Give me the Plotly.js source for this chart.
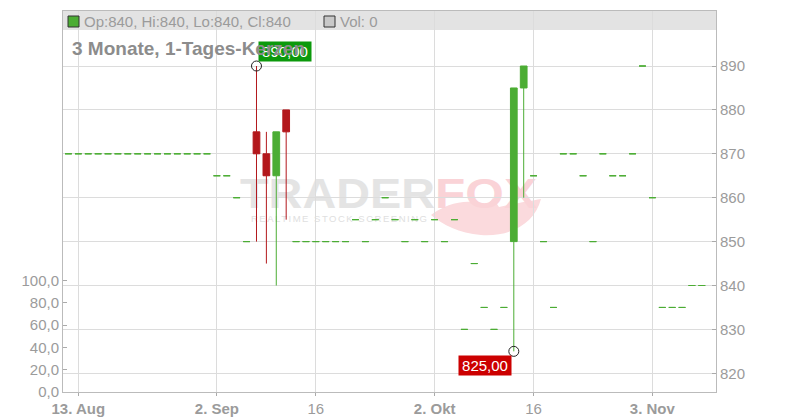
<!DOCTYPE html>
<html>
<head>
<meta charset="utf-8">
<script src="https://cdn.plot.ly/plotly-3.0.1.min.js"></script>
<style>
  html, body { margin: 0; padding: 0; background: #fff; }
  #chart { width: 800px; height: 420px; }
</style>
</head>
<body>
<div id="chart"></div>
<script>
// trading days, 3 months back
var days = [
  '2025-08-12','2025-08-13','2025-08-14','2025-08-15','2025-08-18','2025-08-19','2025-08-20',
  '2025-08-21','2025-08-22','2025-08-25','2025-08-26','2025-08-27','2025-08-28','2025-08-29',
  '2025-09-01','2025-09-02','2025-09-03','2025-09-04','2025-09-05','2025-09-08','2025-09-09',
  '2025-09-10','2025-09-11','2025-09-12','2025-09-15','2025-09-16','2025-09-17','2025-09-18',
  '2025-09-19','2025-09-22','2025-09-23','2025-09-24','2025-09-25','2025-09-26','2025-09-29',
  '2025-09-30','2025-10-01','2025-10-02','2025-10-03','2025-10-06','2025-10-07','2025-10-08',
  '2025-10-09','2025-10-10','2025-10-13','2025-10-14','2025-10-15','2025-10-16','2025-10-17',
  '2025-10-20','2025-10-21','2025-10-22','2025-10-23','2025-10-24','2025-10-27','2025-10-28',
  '2025-10-29','2025-10-30','2025-10-31','2025-11-03','2025-11-04','2025-11-05','2025-11-06',
  '2025-11-07','2025-11-10'
];

var open = [
  870,870,870,870,870,870,870,870,870,870,870,870,870,870,870,
  865,865,860,850,875,870,865,880,
  850,850,850,850,850,850,
  855,850,855,860,855,850,855,850,855,850,855,
  830,845,835,830,835,850,885,
  865,850,835,870,870,865,850,870,865,865,870,890,860,835,835,835,840,840
];
var high = [
  870,870,870,870,870,870,870,870,870,870,870,870,870,870,870,
  865,865,860,850,890,875,875,880,
  850,850,850,850,850,850,
  855,850,855,860,855,850,855,850,855,850,855,
  830,845,835,830,835,885,890,
  865,850,835,870,870,865,850,870,865,865,870,890,860,835,835,835,840,840
];
var low = [
  870,870,870,870,870,870,870,870,870,870,870,870,870,870,870,
  865,865,860,850,850,845,840,855,
  850,850,850,850,850,850,
  855,850,855,860,855,850,855,850,855,850,855,
  830,845,835,830,835,825,860,
  865,850,835,870,870,865,850,870,865,865,870,890,860,835,835,835,840,840
];
var close = [
  870,870,870,870,870,870,870,870,870,870,870,870,870,870,870,
  865,865,860,850,870,865,875,875,
  850,850,850,850,850,850,
  855,850,855,860,855,850,855,850,855,850,855,
  830,845,835,830,835,885,890,
  865,850,835,870,870,865,850,870,865,865,870,890,860,835,835,835,840,840
];
var volume = days.map(function () { return 0; });

var tickDays = ['2025-08-13','2025-09-02','2025-09-16','2025-10-02','2025-10-16','2025-11-03'];
var tickNames = ['<b>13. Aug</b>','<b>2. Sep</b>','16','<b>2. Okt</b>','16','<b>3. Nov</b>'];
var priceTicks = [820, 830, 840, 850, 860, 870, 880, 890];
var volTicks = [0, 20, 40, 60, 80, 100];

var green = '#4cad34';
var red = '#b3181c';

// split flat days (drawn as dashes) from real candles
function pick(arr, flat) {
  var out = [];
  for (var i = 0; i < days.length; i++) {
    var isFlat = open[i] === high[i] && high[i] === low[i] && low[i] === close[i];
    if (isFlat === flat) out.push(arr[i]);
  }
  return out;
}

var flatTrace = {
  type: 'candlestick',
  x: pick(days, true), open: pick(open, true), high: pick(high, true),
  low: pick(low, true), close: pick(close, true),
  increasing: { line: { color: green, width: 1 }, fillcolor: green },
  decreasing: { line: { color: green, width: 1 }, fillcolor: green },
  hoverinfo: 'skip', showlegend: false
};

var candleTrace = {
  type: 'candlestick',
  x: pick(days, false), open: pick(open, false), high: pick(high, false),
  low: pick(low, false), close: pick(close, false),
  increasing: { line: { color: green, width: 1 }, fillcolor: green },
  decreasing: { line: { color: red, width: 1 }, fillcolor: red },
  hoverinfo: 'skip', showlegend: false
};

var volTrace = {
  type: 'bar', x: days, y: volume, yaxis: 'y2',
  marker: { color: '#c8c8c8' }, hoverinfo: 'skip', showlegend: false
};

// max high / min low markers
var hiMax = Math.max.apply(null, high), loMin = Math.min.apply(null, low);
var hiDay = days[high.indexOf(hiMax)], loDay = days[low.indexOf(loMin)];

var extremes = {
  type: 'scatter', mode: 'markers',
  x: [hiDay, loDay], y: [hiMax, loMin],
  marker: { symbol: 'circle-open', size: 10, color: '#222', line: { width: 1 } },
  hoverinfo: 'skip', showlegend: false
};

function fmt(v) { return v.toFixed(2).replace('.', ','); }

var last = days.length - 1;
var legendText = 'Op:' + open[last] + ', Hi:' + high[last] + ', Lo:' + low[last] + ', Cl:' + close[last];

var wm = '<svg xmlns="http://www.w3.org/2000/svg" width="310" height="75" viewBox="0 0 310 75">' +
  '<path d="M196,50 C212,38 232,33 252,40 L258,33 L264,42 C282,38 296,36 306,34 C300,58 276,72 246,70 C224,68 208,60 196,50 Z" fill="#fbdadd"/>' +
  '<text x="5" y="43" font-family="Liberation Sans, Arial" font-weight="bold" font-size="43" fill="#e4e4e4" textLength="195" lengthAdjust="spacingAndGlyphs">TRADER</text>' +
  '<text x="200" y="43" font-family="Liberation Sans, Arial" font-weight="bold" font-size="43" fill="#fad3d7" textLength="102" lengthAdjust="spacingAndGlyphs">FOX</text>' +
  '<text x="16" y="57" font-family="Liberation Sans, Arial" font-size="9.5" fill="#e0e0e0" textLength="176" lengthAdjust="spacing">REALTIME STOCK SCREENING</text>' +
  '</svg>';

var layout = {
  width: 800, height: 420,
  margin: { l: 63, r: 84, t: 11, b: 28 },
  paper_bgcolor: '#fff', plot_bgcolor: '#fff',
  separators: ',.',
  font: { family: 'Liberation Sans, Arial, sans-serif', size: 15, color: '#9b9b9b' },
  showlegend: false,
  hovermode: false,
  boxgap: 0.3,
  boxgroupgap: 0.03,
  xaxis: {
    type: 'category', categoryorder: 'array', categoryarray: days,
    range: [-0.55, 65.43],
    tickmode: 'array', tickvals: tickDays, ticktext: tickNames,
    ticks: 'outside', ticklen: 3, tickcolor: '#aaa',
    showgrid: true, gridcolor: '#dcdcdc',
    showline: true, linecolor: '#bbb', mirror: true,
    tickfont: { size: 15, color: '#9b9b9b' },
    rangeslider: { visible: false }, fixedrange: true
  },
  yaxis: {
    side: 'right', range: [815.74, 902.53],
    tickmode: 'array', tickvals: priceTicks,
    ticks: 'inside', ticklen: 4, tickcolor: '#aaa',
    showgrid: true, gridcolor: '#dcdcdc', zeroline: false,
    showline: true, linecolor: '#bbb',
    tickfont: { size: 15, color: '#9b9b9b' }, fixedrange: true
  },
  yaxis2: {
    overlaying: 'y', side: 'left', range: [0, 341.7],
    tickmode: 'array', tickvals: volTicks, tickformat: '.1f',
    ticks: 'inside', ticklen: 4, tickcolor: '#aaa',
    showgrid: false, zeroline: false,
    showline: true, linecolor: '#bbb',
    tickfont: { size: 15, color: '#9b9b9b' }, fixedrange: true
  },
  shapes: [
    { type: 'rect', xref: 'paper', yref: 'paper', x0: 0, x1: 1, y0: 0.9501, y1: 1,
      fillcolor: '#e3e3e3', line: { width: 0 }, layer: 'below' },
    { type: 'rect', xref: 'paper', yref: 'paper', xsizemode: 'pixel', ysizemode: 'pixel',
      xanchor: 0, yanchor: 1, x0: 5, x1: 16, y0: -5, y1: -16,
      fillcolor: green, line: { color: '#333', width: 1 } },
    { type: 'rect', xref: 'paper', yref: 'paper', xsizemode: 'pixel', ysizemode: 'pixel',
      xanchor: 0, yanchor: 1, x0: 261, x1: 272, y0: -5, y1: -16,
      fillcolor: '#c8c8c8', line: { color: '#333', width: 1 } }
  ],
  images: [
    { source: 'data:image/svg+xml;charset=utf-8,' + encodeURIComponent(wm),
      xref: 'paper', yref: 'paper', x: 0.2634, y: 0.5958, sizex: 0.4747, sizey: 0.1969,
      xanchor: 'left', yanchor: 'top', sizing: 'stretch', layer: 'below' }
  ],
  annotations: [
    { xref: 'paper', yref: 'paper', x: 0, y: 1, xanchor: 'left', yanchor: 'middle',
      xshift: 19, yshift: -10, showarrow: false, text: legendText,
      font: { size: 15, color: '#9b9b9b' } },
    { xref: 'paper', yref: 'paper', x: 0, y: 1, xanchor: 'left', yanchor: 'middle',
      xshift: 275, yshift: -10, showarrow: false, text: 'Vol: ' + volume[last],
      font: { size: 15, color: '#9b9b9b' } },
    { x: hiDay, y: hiMax, xref: 'x', yref: 'y', xanchor: 'left', yanchor: 'bottom',
      xshift: 2, yshift: 4, showarrow: false, text: fmt(hiMax), width: 50, height: 17,
      bgcolor: '#0c990c', borderpad: 1, font: { size: 15, color: '#fff' } },
    { x: loDay, y: loMin, xref: 'x', yref: 'y', xanchor: 'right', yanchor: 'top',
      xshift: -2, yshift: -4, showarrow: false, text: fmt(loMin), width: 50, height: 17,
      bgcolor: '#cc0000', borderpad: 1, font: { size: 15, color: '#fff' } },
    { xref: 'paper', yref: 'paper', x: 0, y: 1, xanchor: 'left', yanchor: 'middle',
      xshift: 7, yshift: -37, showarrow: false, text: '<b>3 Monate, 1-Tages-Kerzen</b>',
      font: { size: 19, color: '#8c8c8c' } }
  ]
};

Plotly.newPlot('chart', [volTrace, flatTrace, candleTrace, extremes], layout,
  { displayModeBar: false, staticPlot: true });
</script>
</body>
</html>
